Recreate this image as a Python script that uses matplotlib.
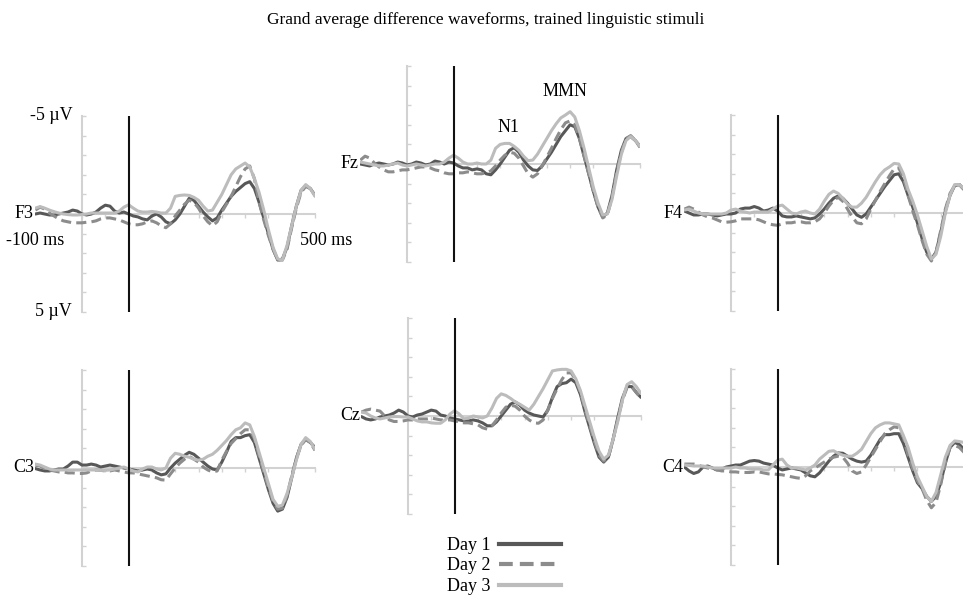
import numpy as np
import matplotlib.pyplot as plt
from matplotlib.lines import Line2D

plt.rcParams['font.family'] = ['Liberation Serif', 'DejaVu Serif']

# time axis of the waveforms, ms
time_ms = np.arange(-100, 501, 10)

# amplitudes in microvolts (negative is drawn upwards)
f3_day1 = [0.0, -0.05, 0.0, 0.05, 0.05, 0.0, -0.05, -0.1, -0.2, -0.15, 0.0,
           0.05, 0.0, -0.1, -0.3, -0.45, -0.4, -0.15, -0.05, -0.1, 0.0,
           0.1, 0.15, 0.25, 0.3, 0.1, 0.0, 0.15, 0.4, 0.5, 0.3,
           0.0, -0.4, -0.8, -0.7, -0.4, -0.1, 0.15, 0.35, 0.2, -0.2,
           -0.55, -0.9, -1.15, -1.35, -1.55, -1.65, -1.3, -0.6, 0.2, 1.0,
           1.8, 2.35, 2.3, 1.7, 0.6, -0.4, -1.2, -1.45, -1.3, -0.95]
f3_day2 = [-0.2, -0.35, -0.25, -0.05, 0.1, 0.25, 0.35, 0.4, 0.45, 0.45, 0.45,
           0.42, 0.4, 0.35, 0.25, 0.2, 0.2, 0.25, 0.3, 0.4, 0.5,
           0.55, 0.55, 0.5, 0.4, 0.35, 0.45, 0.6, 0.7, 0.5, 0.1,
           -0.2, -0.5, -0.7, -0.6, -0.3, 0.1, 0.4, 0.6, 0.4, -0.1,
           -0.5, -0.9, -1.4, -1.9, -2.3, -2.45, -1.8, -0.6, 0.3, 1.1,
           1.8, 2.35, 2.35, 1.8, 0.7, -0.3, -1.1, -1.4, -1.3, -0.95]
f3_day3 = [-0.3, -0.38, -0.3, -0.2, -0.12, -0.05, 0.0, 0.03, 0.05, 0.05, 0.03,
           0.0, -0.05, -0.05, -0.05, -0.05, -0.05, -0.05, -0.15, -0.35, -0.47,
           -0.3, -0.15, -0.1, -0.1, -0.13, -0.1, -0.05, -0.05, -0.3, -0.9,
           -0.95, -0.97, -0.95, -0.85, -0.7, -0.4, -0.15, -0.2, -0.6, -1.0,
           -1.5, -2.0, -2.3, -2.45, -2.6, -2.4, -1.8, -1.1, -0.2, 0.8,
           1.7, 2.3, 2.35, 1.6, 0.6, -0.4, -1.2, -1.5, -1.3, -0.9]

fz_day1 = [0.0, 0.05, 0.1, 0.0, -0.05, 0.0, 0.05, 0.0, -0.1, -0.05, 0.05,
           0.0, -0.1, -0.05, 0.05, 0.0, -0.15, -0.1, 0.0, -0.1, -0.05,
           0.1, 0.2, 0.2, 0.3, 0.25, 0.3, 0.5, 0.55, 0.3, 0.0,
           -0.35, -0.7, -0.83, -0.6, -0.2, 0.1, 0.3, 0.33, 0.1, -0.25,
           -0.6, -1.0, -1.4, -1.7, -2.0, -1.9, -1.3, -0.4, 0.5, 1.4,
           2.2, 2.7, 2.5, 1.6, 0.3, -0.7, -1.3, -1.4, -1.2, -0.9]
fz_day2 = [-0.2, -0.4, -0.3, -0.05, 0.15, 0.3, 0.4, 0.4, 0.35, 0.3, 0.3,
           0.25, 0.2, 0.15, 0.15, 0.2, 0.3, 0.35, 0.45, 0.5, 0.5,
           0.45, 0.45, 0.4, 0.45, 0.5, 0.5, 0.45, 0.35, 0.1, -0.2,
           -0.45, -0.6, -0.55, -0.3, 0.1, 0.5, 0.67, 0.5, 0.1, -0.35,
           -0.8, -1.3, -1.75, -2.1, -2.2, -2.0, -1.3, -0.4, 0.5, 1.4,
           2.2, 2.75, 2.6, 1.7, 0.4, -0.6, -1.3, -1.45, -1.2, -0.85]
fz_day3 = [-0.1, -0.05, 0.0, 0.05, 0.1, 0.1, 0.05, 0.0, -0.05, 0.05, 0.1,
           0.05, 0.0, 0.05, 0.1, 0.05, 0.0, 0.0, -0.1, -0.3, -0.45,
           -0.3, -0.1, 0.0, 0.0, -0.05, 0.0, 0.0, -0.2, -0.8, -1.0,
           -1.05, -1.05, -0.9, -0.7, -0.4, -0.17, -0.2, -0.5, -0.9, -1.3,
           -1.7, -2.05, -2.35, -2.5, -2.67, -2.4, -1.7, -0.8, 0.2, 1.2,
           2.0, 2.6, 2.55, 1.8, 0.6, -0.5, -1.2, -1.4, -1.2, -0.9]

f4_day1 = [-0.1, 0.0, 0.1, 0.1, 0.05, 0.05, 0.1, 0.15, 0.1, 0.05, 0.05,
           0.0, -0.2, -0.25, -0.25, -0.33, -0.25, -0.1, -0.15, -0.25, -0.1,
           0.15, 0.2, 0.2, 0.15, 0.2, 0.25, 0.3, 0.25, 0.05, -0.2,
           -0.5, -0.75, -0.87, -0.75, -0.5, -0.2, 0.1, 0.22, 0.05, -0.3,
           -0.65, -1.0, -1.35, -1.65, -1.95, -2.0, -1.6, -0.9, -0.3, 0.5,
           1.3, 2.0, 2.35, 2.0, 1.0, -0.1, -0.9, -1.4, -1.45, -1.2]
f4_day2 = [-0.2, -0.3, -0.2, -0.05, 0.1, 0.2, 0.25, 0.35, 0.45, 0.47, 0.45,
           0.4, 0.3, 0.3, 0.3, 0.3, 0.35, 0.45, 0.55, 0.6, 0.63,
           0.55, 0.5, 0.5, 0.45, 0.45, 0.5, 0.5, 0.45, 0.3, 0.0,
           -0.35, -0.65, -0.8, -0.6, -0.2, 0.2, 0.5, 0.55, 0.3, -0.2,
           -0.65, -1.1, -1.5, -1.9, -2.25, -2.3, -1.8, -0.9, -0.1, 0.6,
           1.4, 2.1, 2.45, 2.0, 0.9, -0.2, -1.0, -1.4, -1.45, -1.2]
f4_day3 = [-0.15, -0.2, -0.1, 0.0, 0.05, 0.05, 0.05, 0.05, 0.05, 0.0, -0.15,
           -0.2, -0.1, -0.05, 0.0, -0.05, -0.05, -0.05, -0.05, -0.2, -0.35,
           -0.4, -0.2, 0.0, 0.05, -0.05, -0.1, 0.0, 0.05, -0.2, -0.6,
           -0.95, -1.12, -1.0, -0.75, -0.45, -0.3, -0.3, -0.5, -0.8, -1.2,
           -1.6, -1.95, -2.2, -2.35, -2.53, -2.5, -2.0, -1.2, -0.6, 0.1,
           0.9, 1.7, 2.35, 2.1, 1.2, 0.0, -0.9, -1.45, -1.45, -1.25]

c3_day1 = [0.03, 0.1, 0.15, 0.15, 0.1, 0.05, 0.05, -0.1, -0.3, -0.3, -0.15,
           -0.15, -0.2, -0.15, -0.05, -0.1, -0.15, -0.1, -0.05, 0.0, 0.05,
           0.1, 0.15, 0.1, 0.05, 0.1, 0.25, 0.35, 0.3, 0.0, -0.25,
           -0.45, -0.65, -0.8, -0.7, -0.5, -0.3, -0.1, 0.05, 0.1, -0.3,
           -0.8, -1.35, -1.55, -1.55, -1.65, -1.7, -1.3, -0.5, 0.3, 1.1,
           1.8, 2.2, 2.1, 1.5, 0.5, -0.5, -1.2, -1.47, -1.3, -1.05]
c3_day2 = [-0.13, -0.1, 0.05, 0.1, 0.15, 0.2, 0.2, 0.25, 0.25, 0.28, 0.28,
           0.25, 0.15, 0.1, 0.12, 0.15, 0.15, 0.1, 0.15, 0.2, 0.25,
           0.25, 0.3, 0.35, 0.4, 0.45, 0.5, 0.6, 0.62, 0.3, 0.0,
           -0.25, -0.45, -0.6, -0.45, -0.3, -0.05, 0.1, 0.2, 0.15, -0.4,
           -0.85, -1.25, -1.5, -1.75, -1.95, -1.95, -1.5, -0.6, 0.2, 1.0,
           1.7, 2.1, 2.05, 1.4, 0.4, -0.5, -1.15, -1.45, -1.3, -0.9]
c3_day3 = [-0.2, -0.15, -0.05, 0.05, 0.1, 0.1, 0.1, 0.1, 0.1, 0.1, 0.1,
           0.1, 0.1, 0.1, 0.12, 0.12, 0.1, 0.05, 0.0, -0.05, 0.05,
           0.15, 0.2, 0.05, -0.05, -0.05, 0.05, 0.1, 0.0, -0.5, -0.75,
           -0.7, -0.6, -0.55, -0.45, -0.4, -0.45, -0.6, -0.7, -0.9, -1.15,
           -1.4, -1.7, -1.95, -2.05, -2.3, -2.2, -1.6, -0.8, 0.0, 0.8,
           1.6, 1.95, 1.9, 1.3, 0.5, -0.4, -1.2, -1.55, -1.35, -0.95]

cz_day1 = [0.03, 0.15, 0.2, 0.15, 0.05, 0.0, -0.05, -0.15, -0.3, -0.2, 0.0,
           0.05, -0.05, -0.1, -0.2, -0.3, -0.25, -0.05, 0.0, 0.1, 0.15,
           0.2, 0.25, 0.25, 0.2, 0.25, 0.35, 0.5, 0.5, 0.3, 0.0,
           -0.3, -0.6, -0.72, -0.55, -0.3, -0.15, -0.05, 0.0, 0.05, -0.3,
           -0.95, -1.5, -1.65, -1.7, -1.88, -1.7, -1.1, -0.2, 0.6, 1.4,
           2.1, 2.35, 2.1, 1.2, 0.1, -0.9, -1.5, -1.5, -1.2, -0.95]
cz_day2 = [-0.2, -0.3, -0.35, -0.3, -0.25, 0.0, 0.2, 0.28, 0.28, 0.25, 0.2,
           0.2, 0.15, 0.15, 0.15, 0.1, 0.15, 0.2, 0.2, 0.2, 0.25,
           0.3, 0.35, 0.35, 0.4, 0.45, 0.6, 0.67, 0.5, 0.2, -0.15,
           -0.45, -0.55, -0.5, -0.3, 0.0, 0.2, 0.35, 0.37, 0.2, -0.3,
           -0.9, -1.4, -1.85, -2.2, -2.2, -1.85, -1.2, -0.3, 0.5, 1.3,
           2.0, 2.3, 2.1, 1.2, 0.2, -0.8, -1.45, -1.5, -1.2, -0.9]
cz_day3 = [-0.2, -0.15, 0.0, 0.1, 0.15, 0.1, 0.05, 0.03, 0.03, 0.05, 0.05,
           0.15, 0.25, 0.3, 0.3, 0.35, 0.37, 0.37, 0.2, -0.1, -0.27,
           -0.1, 0.15, 0.1, 0.0, 0.05, 0.1, 0.0, -0.4, -0.9, -1.13,
           -1.05, -0.9, -0.72, -0.6, -0.45, -0.3, -0.6, -1.0, -1.4, -1.85,
           -2.3, -2.35, -2.38, -2.38, -2.3, -1.9, -1.3, -0.5, 0.3, 1.1,
           1.8, 2.2, 2.0, 1.2, 0.3, -0.8, -1.6, -1.75, -1.5, -1.15]

c4_day1 = [0.0, 0.2, 0.33, 0.25, 0.0, -0.05, 0.05, 0.15, 0.1, 0.0, -0.05,
           -0.1, -0.1, -0.2, -0.3, -0.33, -0.3, -0.2, -0.15, -0.1, 0.05,
           0.15, 0.1, 0.05, 0.1, 0.15, 0.3, 0.45, 0.5, 0.3, 0.0,
           -0.3, -0.55, -0.72, -0.7, -0.55, -0.4, -0.3, -0.25, -0.3, -0.6,
           -1.0, -1.4, -1.65, -1.65, -1.7, -1.7, -1.2, -0.5, 0.2, 0.8,
           1.1, 1.5, 1.75, 1.5, 0.8, -0.2, -1.0, -1.25, -1.15, -0.9]
c4_day2 = [-0.15, -0.15, -0.15, -0.1, 0.0, 0.05, 0.1, 0.15, 0.2, 0.2, 0.25,
           0.25, 0.28, 0.28, 0.28, 0.25, 0.25, 0.3, 0.35, 0.35, 0.38,
           0.4, 0.45, 0.5, 0.55, 0.58, 0.45, 0.2, 0.05, -0.1, -0.25,
           -0.4, -0.5, -0.55, -0.5, -0.2, 0.2, 0.33, 0.25, -0.1, -0.5,
           -0.9, -1.3, -1.7, -1.9, -2.05, -2.0, -1.5, -0.6, 0.1, 0.7,
           1.1, 1.7, 2.08, 1.8, 0.9, -0.2, -1.0, -1.1, -1.0, -0.75]
c4_day3 = [-0.1, -0.08, -0.05, -0.05, -0.05, 0.0, 0.05, 0.05, 0.05, 0.05, 0.05,
           0.0, 0.05, 0.05, 0.1, 0.1, 0.1, 0.15, 0.15, -0.1, -0.35,
           -0.4, -0.1, 0.05, 0.05, 0.1, 0.15, 0.05, -0.1, -0.4, -0.6,
           -0.8, -0.83, -0.7, -0.6, -0.55, -0.55, -0.7, -0.9, -1.3, -1.7,
           -2.0, -2.15, -2.25, -2.25, -2.2, -2.15, -1.6, -1.0, -0.2, 0.5,
           1.0, 1.5, 1.75, 1.3, 0.4, -0.5, -1.1, -1.33, -1.3, -1.25]

channels = ['F3', 'Fz', 'F4', 'C3', 'Cz', 'C4']
waves = {
    'F3': [f3_day1, f3_day2, f3_day3],
    'Fz': [fz_day1, fz_day2, fz_day3],
    'F4': [f4_day1, f4_day2, f4_day3],
    'C3': [c3_day1, c3_day2, c3_day3],
    'Cz': [cz_day1, cz_day2, cz_day3],
    'C4': [c4_day1, c4_day2, c4_day3],
}
day_labels = ['Day 1', 'Day 2', 'Day 3']
day_colors = ['#585858', '#8c8c8c', '#bcbcbc']
day_dashes = [None, (3.3, 1.7), None]

# where each panel sits: pixel x of the 0 ms axis, pixel y of the -5 uV end
panel_px = {'F3': (82, 116), 'Fz': (407, 66), 'F4': (731, 115),
            'C3': (82, 370), 'Cz': (408, 318), 'C4': (731, 369)}

W, H = 963, 597
PX_MS = 0.466   # pixels per ms
PX_UV = 19.6    # pixels per microvolt
axis_gray = '#d2d2d2'
fs = 13

fig = plt.figure(figsize=(W / 100, H / 100), dpi=100)

for ch in channels:
    x0, top = panel_px[ch]
    left = x0 - 100 * PX_MS
    ax = fig.add_axes([left / W, 1 - (top + 10 * PX_UV) / H,
                       600 * PX_MS / W, 10 * PX_UV / H])
    ax.set_xlim(-100, 500)
    ax.set_ylim(5, -5)
    ax.patch.set_visible(False)
    for s in ['top', 'right']:
        ax.spines[s].set_visible(False)
    ax.spines['left'].set_position(('data', 0))
    ax.spines['bottom'].set_position(('data', 0))
    ax.spines['left'].set_bounds(-5, 5)
    ax.spines['bottom'].set_bounds(0, 500)
    for s in ['left', 'bottom']:
        ax.spines[s].set_color(axis_gray)
        ax.spines[s].set_linewidth(1.5)
    ax.set_xticks(range(0, 501, 50))
    ax.set_yticks(range(-5, 6))
    ax.tick_params(labelbottom=False, labelleft=False, color=axis_gray,
                   length=3, width=1)
    ax.tick_params(axis='y', direction='in')

    for vals, col, dash in zip(waves[ch], day_colors, day_dashes):
        ln, = ax.plot(time_ms, vals, color=col, lw=2.2, zorder=3,
                      solid_capstyle='round')
        if dash:
            ln.set_dashes(dash)
    ax.axvline(100, color='#111111', lw=1.5, zorder=5)
    ax.text(-103, 0, ch, ha='right', va='center', fontsize=fs, clip_on=False)

    if ch == 'F3':
        ax.text(-21, -5, '-5 µV', ha='right', va='center', fontsize=fs)
        ax.text(-21, 5, '5 µV', ha='right', va='center', fontsize=fs)
        ax.text(-100, 1.35, '-100 ms', ha='center', va='center', fontsize=fs)
        ax.text(468, 1.35, '500 ms', ha='left', va='center', fontsize=fs,
                clip_on=False)
    if ch == 'Fz':
        ax.text(217, -1.85, 'N1', ha='center', va='center', fontsize=fs)
        ax.text(339, -3.7, 'MMN', ha='center', va='center', fontsize=fs)

fig.text(0.504, 1 - 20 / H,
         'Grand average difference waveforms, trained linguistic stimuli',
         ha='center', va='center', fontsize=12.5)

handles = [Line2D([], [], color=c, lw=3, dashes=d if d else (None, None))
           for c, d in zip(day_colors, day_dashes)]
handles[0].set_linestyle('-')
handles[2].set_linestyle('-')
fig.legend(handles, day_labels, loc='center', bbox_to_anchor=(0.523, 0.052),
           frameon=False, markerfirst=False, fontsize=fs, handlelength=3.4,
           handletextpad=0.5, labelspacing=0.2, borderpad=0)

fig.savefig('out.png', dpi=100)
